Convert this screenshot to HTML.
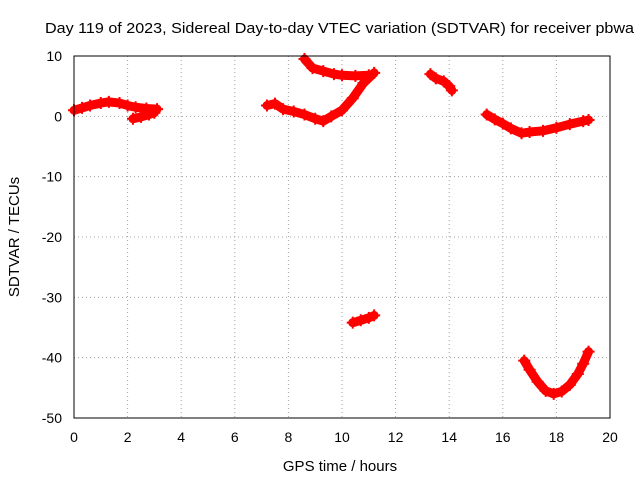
<!DOCTYPE html>
<html><head><meta charset="utf-8"><style>
body{margin:0;background:#fff}
svg{display:block;font-family:"Liberation Sans",sans-serif}
</style></head><body>
<svg id="chart" width="640" height="480">
<text x="45" y="33" textLength="589" lengthAdjust="spacingAndGlyphs" font-size="15">Day 119 of 2023, Sidereal Day-to-day VTEC variation (SDTVAR) for receiver pbwa</text>
<text x="340" y="471" text-anchor="middle" font-size="15">GPS time / hours</text>
<text transform="translate(19,237) rotate(-90)" text-anchor="middle" font-size="15">SDTVAR / TECUs</text>
<g id="grid"></g><g id="ticks"></g><g id="marks"></g>
<rect x="74" y="56" width="536" height="362" fill="none" stroke="#000"/>
</svg>
<script>
const xTicks=[0,2,4,6,8,10,12,14,16,18,20];
const yTicks=[10,0,-10,-20,-30,-40,-50];
const arc1T=[0,0.3,0.6,1,1.3,1.7,2,2.3,2.7,3.1];
const arc1V=[1,1.4,1.8,2.2,2.4,2.2,1.8,1.5,1.3,1.2];
const arc1bT=[2.2,2.5,2.8,3.0];
const arc1bV=[-0.4,-0.1,0.3,0.6];
const arc2T=[7.2,7.5,7.8,8.2,8.6,9,9.3,9.6,10,10.4,10.8,11.2];
const arc2V=[1.8,2.1,1.2,0.8,0.3,-0.4,-0.8,0,1,3,5.5,7.2];
const arc3T=[8.6,8.9,9.3,9.7,10,10.5,11];
const arc3V=[9.5,8,7.5,7,6.8,6.7,6.8];
const arc4T=[13.3,13.5,13.8,14,14.1];
const arc4V=[7,6.3,5.8,5,4.3];
const arc5T=[15.4,15.7,16,16.3,16.7,17,17.5,18,18.5,19,19.2];
const arc5V=[0.3,-0.5,-1.2,-2,-2.8,-2.6,-2.4,-1.9,-1.3,-0.8,-0.6];
const arc6T=[10.4,10.7,11,11.2];
const arc6V=[-34.2,-33.8,-33.4,-33];
const arc7T=[16.8,17,17.3,17.6,17.9,18.2,18.5,18.8,19,19.2];
const arc7V=[-40.5,-42,-44,-45.5,-46,-45.6,-44.5,-42.7,-41,-39];
const arcs=[[arc1T,arc1V],[arc1bT,arc1bV],[arc2T,arc2V],[arc3T,arc3V],[arc4T,arc4V],[arc5T,arc5V],[arc6T,arc6V],[arc7T,arc7V]];
const X0=74,X1=610,Y0=56,Y1=418;
const xs=v=>X0+(v-0)/(20-0)*(X1-X0);
const ys=v=>Y1-(v+50)/60*(Y1-Y0);
const NS="http://www.w3.org/2000/svg";
const grid=document.getElementById('grid'),ticks=document.getElementById('ticks'),marks=document.getElementById('marks');
function mk(tag,at,parent){const e=document.createElementNS(NS,tag);for(const k in at)e.setAttribute(k,at[k]);parent.appendChild(e);return e;}
xTicks.forEach(t=>{const x=xs(t);
 if(t>0&&t<20){const g=mk('line',{x1:x,x2:x,y1:Y0,y2:Y1,stroke:'#a0a0a0','stroke-dasharray':'1,3'},grid);
 
 }
 const l=mk('text',{x:x,y:Y1+24,'text-anchor':'middle','font-size':14},ticks);l.textContent=t;
 
 });
yTicks.forEach(t=>{const y=ys(t);
 if(t>-50&&t<10){const g=mk('line',{x1:X0,x2:X1,y1:y,y2:y,stroke:'#a0a0a0','stroke-dasharray':'1,3'},grid);
 
 }
 const l=mk('text',{x:X0-12,y:y+5,'text-anchor':'end','font-size':14},ticks);l.textContent=t;
 
 });
arcs.forEach(([T,V])=>{
 const pts=T.map((t,i)=>xs(t)+','+ys(V[i])).join(' ');
 const p=mk('polyline',{points:pts,fill:'none',stroke:'#ff0000','stroke-width':9,'stroke-linejoin':'round','stroke-linecap':'round'},marks);
 
 
 T.forEach((t,i)=>{const x=xs(t),y=ys(V[i]);
  const m=mk('path',{d:`M${x-6},${y}H${x+6}M${x},${y-6}V${y+6}`,stroke:'#ff0000','stroke-width':2},marks);
  
  });
});
</script>
</body></html>
